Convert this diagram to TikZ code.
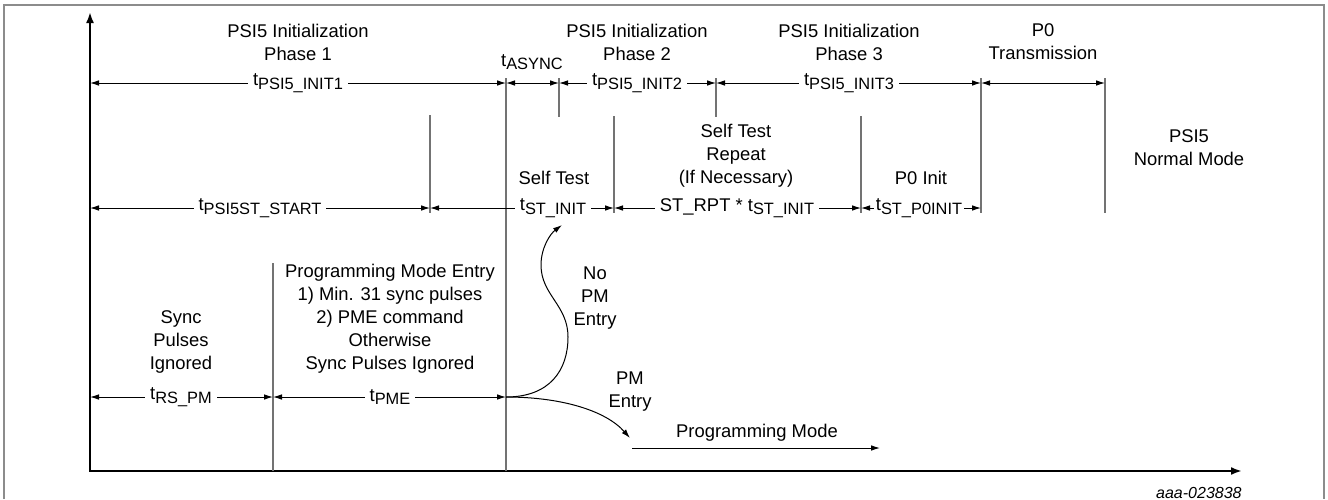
\documentclass[tikz,border=0pt]{standalone}
\usepackage{fontspec}
\setmainfont{Liberation Sans}
\usetikzlibrary{arrows.meta}
\newcommand\tsb[1]{t\raisebox{-0.35ex}{\fontsize{8.2}{9}\selectfont #1}}
\tikzset{
  frameline/.style={draw=black!45, line width=0.7pt},
  axisline/.style={line width=1.1pt, {Latex[length=5.5pt,width=4pt]}-{Latex[length=5.5pt,width=4pt]}},
  vline/.style={draw=black!55, line width=0.7pt},
  dim/.style={line width=0.5pt, {Latex[length=4.5pt,width=2.8pt]}-{Latex[length=4.5pt,width=2.8pt]}},
  onearrow/.style={line width=0.5pt, -{Latex[length=4.5pt,width=2.8pt]}},
  lbl/.style={fill=white, inner xsep=2.5pt, inner ysep=1pt},
  txt/.style={align=center, inner sep=0pt}
}
\begin{document}
\begin{tikzpicture}[x=0.5pt,y=-0.5pt,font=\fontsize{9.2}{11.5}\selectfont]
\useasboundingbox (0,0) rectangle (1328,499);
% frame
\coordinate (fbl) at (4,499); \coordinate (ftl) at (4,5);
\coordinate (ftr) at (1324,5); \coordinate (fbr) at (1324,499);
\draw[frameline] (fbl) -- (ftl) -- (ftr) -- (fbr);
% axes
\coordinate (O) at (90,471); \coordinate (Ytop) at (90,12); \coordinate (Xend) at (1242,471);
\draw[axisline] (Ytop) -- (O) -- (Xend);
% vertical lines
\foreach \x/\ya/\yb in {506/78/471, 430/115/213, 273/263/471, 559/78/117, 614/116/213,
  716/78/117, 861/116/213, 981/78/213, 1105/78/213} {
  \coordinate (vt\x) at (\x,\ya); \coordinate (vb\x) at (\x,\yb);
  \draw[vline] (vt\x) -- (vb\x);
}
% row 1
\coordinate (A1) at (90,83); \coordinate (B1) at (506,83); \coordinate (C1) at (559,83);
\coordinate (D1) at (716,83); \coordinate (E1) at (981,83); \coordinate (F1) at (1105,83);
\draw[dim] (A1) -- (B1);
\draw[dim] (B1) -- (C1);
\draw[dim] (C1) -- (D1);
\draw[dim] (D1) -- (E1);
\draw[dim] (E1) -- (F1);
\node[lbl] (l1) at (298,83) {\tsb{PSI5\_INIT1}};
\node[lbl] (l2) at (637,83) {\tsb{PSI5\_INIT2}};
\node[lbl] (l3) at (849,83) {\tsb{PSI5\_INIT3}};
\node[txt] (tas) at (532,62) {\tsb{ASYNC}};
\node[txt] (ph1) at (298,42) {PSI5 Initialization\\Phase 1};
\node[txt] (ph2) at (637,42) {PSI5 Initialization\\Phase 2};
\node[txt] (ph3) at (849,42) {PSI5 Initialization\\Phase 3};
\node[txt] (p0) at (1043,42) {P0\\Transmission};
% row 2
\coordinate (A2) at (90,208); \coordinate (B2) at (430,208); \coordinate (C2) at (614,208);
\coordinate (D2) at (861,208); \coordinate (E2) at (981,208);
\draw[dim] (A2) -- (B2);
\draw[dim] (B2) -- (C2);
\draw[dim] (C2) -- (D2);
\draw[dim] (D2) -- (E2);
\node[lbl] (m1) at (260,208) {\tsb{PSI5ST\_START}};
\node[lbl] (m2) at (553,208) {\tsb{ST\_INIT}};
\node[lbl] (m3) at (737,208) {ST\_RPT * \tsb{ST\_INIT}};
\node[lbl, inner xsep=1pt] (m4) at (919,208) {\tsb{ST\_P0INIT}};
\node[txt] (st) at (554,178) {Self Test};
\node[txt] (str) at (736,156) {Self Test\\Repeat\\(If Necessary)};
\node[txt] (p0i) at (921,178) {P0 Init};
\node[txt] (nm) at (1189,148) {PSI5\\Normal Mode};
% row 3
\coordinate (A3) at (90,397); \coordinate (B3) at (273,397); \coordinate (C3) at (506,397);
\draw[dim] (A3) -- (B3);
\draw[dim] (B3) -- (C3);
\node[lbl] (n1) at (181,397) {\tsb{RS\_PM}};
\node[lbl] (n2) at (390,397) {\tsb{PME}};
\node[txt] (sync) at (181,342) {Sync\\Pulses\\Ignored};
\node[txt] (pme) at (390,319) {Programming Mode Entry\\1) Min. 31 sync pulses\\2) PME command\\Otherwise\\Sync Pulses Ignored};
% branches
\coordinate (noend) at (562,225);
\coordinate (pmend) at (630,438);
\draw[onearrow] (C3) .. controls (550,397) and (568,370) .. (568,337)
  .. controls (568,305) and (541,295) .. (541,265)
  .. controls (541,248) and (550,234) .. (noend);
\draw[onearrow] (C3) .. controls (560,397) and (605,410) .. (pmend);
\node[txt] (nopm) at (595,298) {No\\PM\\Entry};
\node[txt] (pme2) at (630,392) {PM\\Entry};
\coordinate (PMa) at (632,448); \coordinate (PMb) at (880,448);
\draw[onearrow] (PMa) -- (PMb);
\node[txt] (pmode) at (757,433) {Programming Mode};
\node[anchor=east, inner sep=0pt, font=\fontsize{8}{9}\selectfont\itshape] (id) at (1242,493) {aaa-023838};
\end{tikzpicture}
\end{document}
